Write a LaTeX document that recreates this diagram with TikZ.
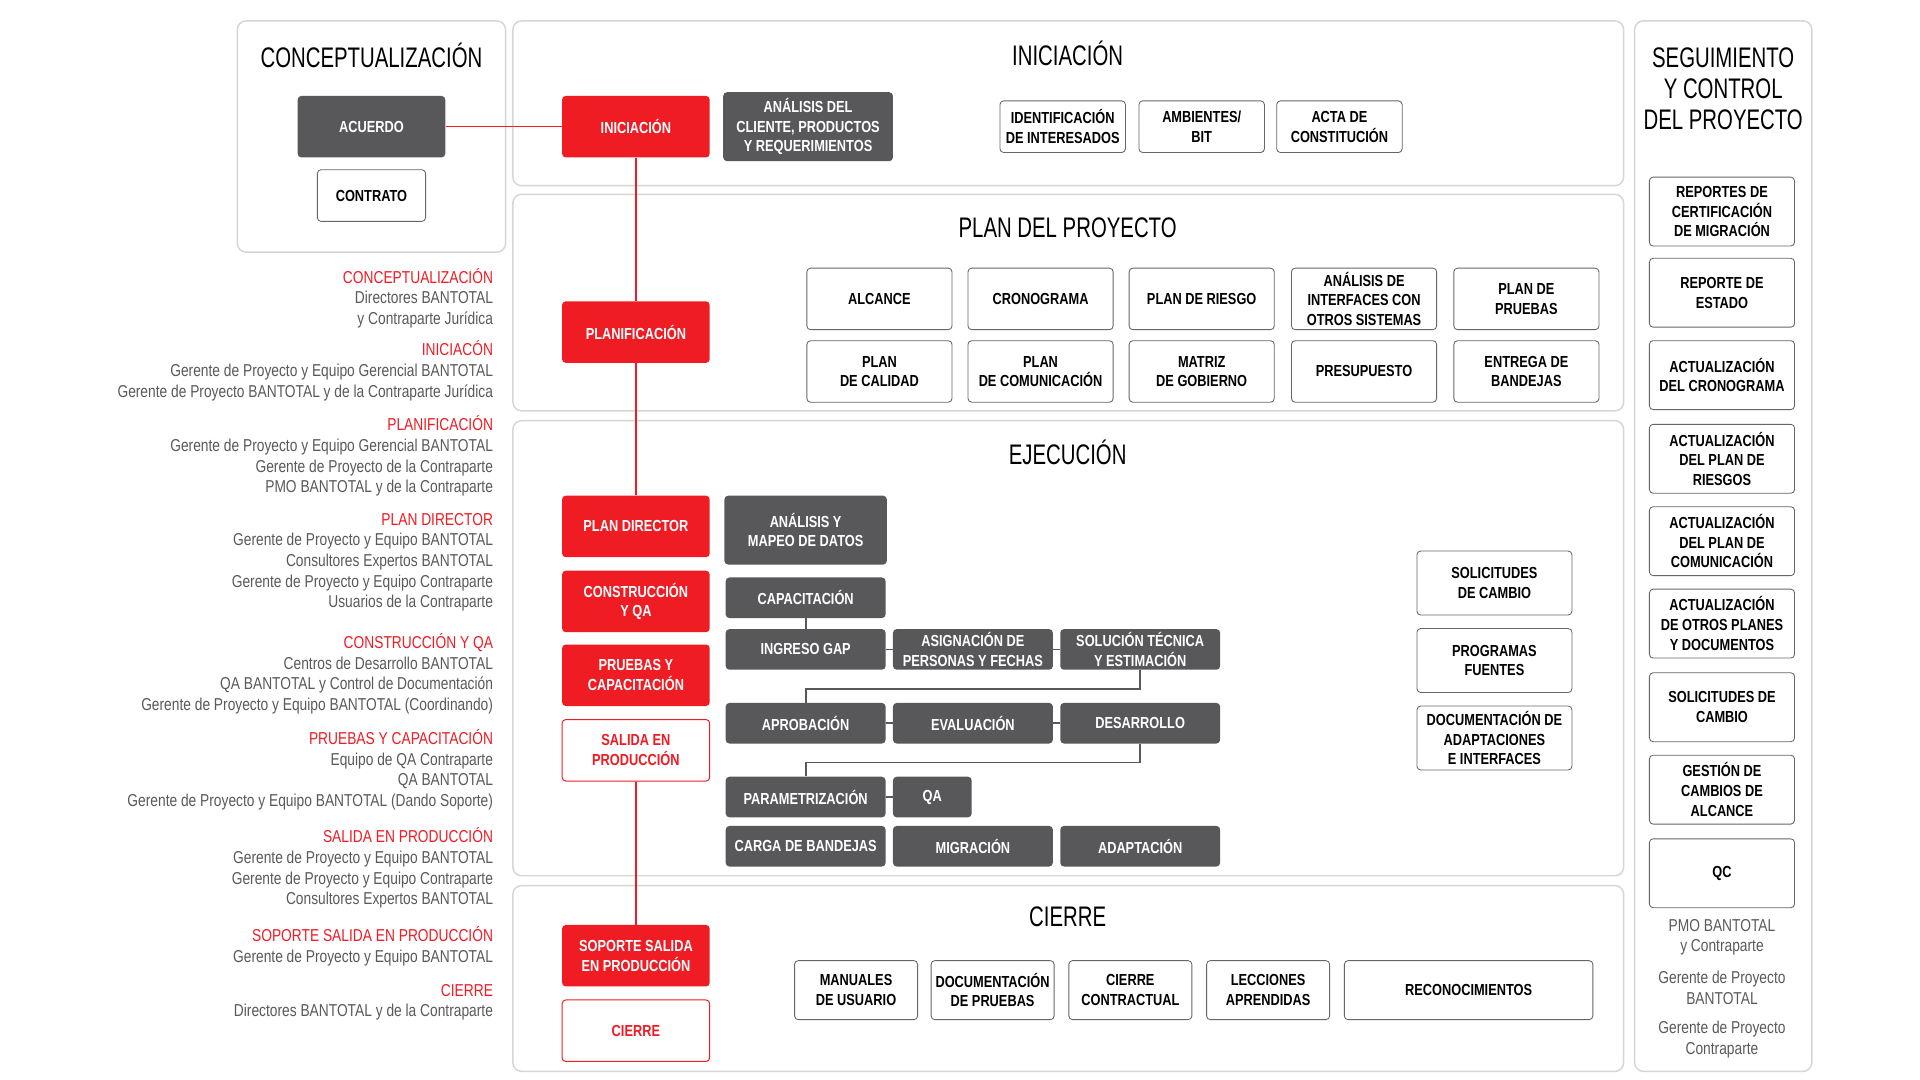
\documentclass[tikz,border=0pt]{standalone}
\usepackage{fontspec}
\setmainfont{Liberation Sans}[FakeStretch=0.8]
\newfontfamily\narrowf{Liberation Sans}[FakeStretch=0.72]
\begin{document}
\definecolor{rd}{HTML}{F01C24}
\definecolor{dk}{HTML}{58585B}
\definecolor{tx}{HTML}{5A5A5A}
\definecolor{pn}{HTML}{D6D6D6}
\begin{tikzpicture}[x=1pt,y=-1pt,
  panel/.style={draw=pn,line width=1.2pt,rounded corners=7pt},
  bx/.style={rounded corners=3pt,align=center,font=\fontsize{13}{16}\selectfont\bfseries,inner sep=1pt},
  wb/.style={bx,draw=black!60,line width=0.7pt,fill=white,text=black},
  db/.style={bx,fill=dk,text=white},
  rb/.style={bx,fill=rd,text=white},
  rw/.style={bx,draw=rd,line width=0.8pt,fill=white,text=rd},
  ttl/.style={align=center,font=\narrowf\fontsize{23}{25}\selectfont},
  side/.style={anchor=north east,align=right,inner sep=0pt,text=tx,font=\fontsize{14}{16.8}\selectfont},
  gl/.style={draw=dk,line width=1.4pt},
]
\useasboundingbox (0,0) rectangle (1561,878);
\fill[white] (0,0) rectangle (1561,878);
% panels
\draw[panel] (193,17) rectangle (411,205);
\draw[panel] (417,17) rectangle (1320,151);
\draw[panel] (417,158) rectangle (1320,334);
\draw[panel] (417,342) rectangle (1320,712);
\draw[panel] (417,720) rectangle (1320,871);
\draw[panel] (1329,17) rectangle (1473,871);
% titles
\node[ttl] (tc) at (302,45) {CONCEPTUALIZACIÓN};
\node[ttl] (ti) at (868,43) {INICIACIÓN};
\node[ttl] (tp) at (868,185) {PLAN DEL PROYECTO};
\node[ttl] (te) at (868,368) {EJECUCIÓN};
\node[ttl] (tci) at (868,745) {CIERRE};
\node[ttl] (ts) at (1401,72) {SEGUIMIENTO\\Y CONTROL\\DEL PROYECTO};
% concept
\node[db,minimum width=120,minimum height=50] (acu) at (302,103) {ACUERDO};
\node[wb,minimum width=88,minimum height=42] (con) at (302,159) {CONTRATO};
% red column
\node[rb,minimum width=120,minimum height=50] (ini) at (517,103) {INICIACIÓN};
\node[rb,minimum width=120,minimum height=50] (pla) at (517,270) {PLANIFICACIÓN};
\node[rb,minimum width=120,minimum height=50] (pdi) at (517,428) {PLAN DIRECTOR};
\node[rb,minimum width=120,minimum height=50] (cqa) at (517,489) {CONSTRUCCIÓN\\Y QA};
\node[rb,minimum width=120,minimum height=50] (pca) at (517,549) {PRUEBAS Y\\CAPACITACIÓN};
\node[rw,minimum width=120,minimum height=50] (sal) at (517,610) {SALIDA EN\\PRODUCCIÓN};
\node[rb,minimum width=120,minimum height=50] (sop) at (517,777) {SOPORTE SALIDA\\EN PRODUCCIÓN};
\node[rw,minimum width=120,minimum height=50] (cie) at (517,838) {CIERRE};
\draw[rd,line width=1.2pt] (acu.east) -- (ini.west);
\draw[rd,line width=1.2pt] (ini.south) -- (pla.north);
\draw[rd,line width=1.2pt] (pla.south) -- (pdi.north);
\draw[rd,line width=1.2pt] (sal.south) -- (sop.north);
% iniciacion
\node[db,minimum width=138,minimum height=56] (acl) at (657,103) {ANÁLISIS DEL\\CLIENTE, PRODUCTOS\\Y REQUERIMIENTOS};
\node[wb,minimum width=102,minimum height=42] (ide) at (864,103) {IDENTIFICACIÓN\\DE INTERESADOS};
\node[wb,minimum width=102,minimum height=42] (amb) at (977,103) {AMBIENTES/\\BIT};
\node[wb,minimum width=102,minimum height=42] (act) at (1089,103) {ACTA DE\\CONSTITUCIÓN};
% plan
\tikzset{pb/.style={wb,minimum width=118,minimum height=50}}
\node[pb] (p1) at (715,243) {ALCANCE};
\node[pb] (p2) at (846,243) {CRONOGRAMA};
\node[pb] (p3) at (977,243) {PLAN DE RIESGO};
\node[pb] (p4) at (1109,243) {ANÁLISIS DE\\INTERFACES CON\\OTROS SISTEMAS};
\node[pb] (p5) at (1241,243) {PLAN DE\\PRUEBAS};
\node[pb] (q1) at (715,302) {PLAN\\DE CALIDAD};
\node[pb] (q2) at (846,302) {PLAN\\DE COMUNICACIÓN};
\node[pb] (q3) at (977,302) {MATRIZ\\DE GOBIERNO};
\node[pb] (q4) at (1109,302) {PRESUPUESTO};
\node[pb] (q5) at (1241,302) {ENTREGA DE\\BANDEJAS};
% ejecucion
\tikzset{eb/.style={db,minimum width=130,minimum height=33}}
\node[db,minimum width=132,minimum height=56] (amd) at (655,431) {ANÁLISIS Y\\MAPEO DE DATOS};
\node[eb] (cap) at (655,486) {CAPACITACIÓN};
\node[eb] (gap) at (655,528) {INGRESO GAP};
\node[eb] (asi) at (791,528) {ASIGNACIÓN DE\\PERSONAS Y FECHAS};
\node[eb] (sol) at (927,528) {SOLUCIÓN TÉCNICA\\Y ESTIMACIÓN};
\node[eb] (apr) at (655,588) {APROBACIÓN};
\node[eb] (eva) at (791,588) {EVALUACIÓN};
\node[eb] (des) at (927,588) {DESARROLLO};
\node[eb] (par) at (655,648) {PARAMETRIZACIÓN};
\node[db,minimum width=64,minimum height=33] (qa) at (758,648) {QA};
\node[eb] (car) at (655,688) {CARGA DE BANDEJAS};
\node[eb] (mig) at (791,688) {MIGRACIÓN};
\node[eb] (ada) at (927,688) {ADAPTACIÓN};
\draw[gl] (cap.south) -- (gap.north);
\draw[gl] (gap.east) -- (asi.west);
\draw[gl] (asi.east) -- (sol.west);
\draw[gl] (sol.south) |- (655,560) -- (apr.north);
\draw[gl] (apr.east) -- (eva.west);
\draw[gl] (eva.east) -- (des.west);
\draw[gl] (des.south) |- (655,620) -- (par.north);
\draw[gl] (par.east) -- (qa.west);
\tikzset{rb2/.style={wb,minimum width=126,minimum height=52}}
\node[rb2] (sc) at (1215,474) {SOLICITUDES\\DE CAMBIO};
\node[rb2] (pf) at (1215,537) {PROGRAMAS\\FUENTES};
\node[rb2] (da) at (1215,600) {DOCUMENTACIÓN DE\\ADAPTACIONES\\E INTERFACES};
% cierre
\tikzset{cb/.style={wb,minimum width=100,minimum height=48}}
\node[cb] (c1) at (696,805) {MANUALES\\DE USUARIO};
\node[cb] (c2) at (807,805) {DOCUMENTACIÓN\\DE PRUEBAS};
\node[cb] (c3) at (919,805) {CIERRE\\CONTRACTUAL};
\node[cb] (c4) at (1031,805) {LECCIONES\\APRENDIDAS};
\node[wb,minimum width=202,minimum height=48] (c5) at (1194,805) {RECONOCIMIENTOS};
% seguimiento
\tikzset{sb/.style={wb,minimum width=118,minimum height=56}}
\node[sb] (s1) at (1400,172) {REPORTES DE\\CERTIFICACIÓN\\DE MIGRACIÓN};
\node[sb] (s2) at (1400,238) {REPORTE DE\\ESTADO};
\node[sb] (s3) at (1400,305) {ACTUALIZACIÓN\\DEL CRONOGRAMA};
\node[sb] (s4) at (1400,373) {ACTUALIZACIÓN\\DEL PLAN DE\\RIESGOS};
\node[sb] (s5) at (1400,440) {ACTUALIZACIÓN\\DEL PLAN DE\\COMUNICACIÓN};
\node[sb] (s6) at (1400,507) {ACTUALIZACIÓN\\DE OTROS PLANES\\Y DOCUMENTOS};
\node[sb] (s7) at (1400,575) {SOLICITUDES DE\\CAMBIO};
\node[sb] (s8) at (1400,642) {GESTIÓN DE\\CAMBIOS DE\\ALCANCE};
\node[sb] (s9) at (1400,710) {QC};
\tikzset{gt/.style={align=center,text=tx,font=\fontsize{14}{16.8}\selectfont}}
\node[gt] (g1) at (1400,762) {PMO BANTOTAL\\y Contraparte};
\node[gt] (g2) at (1400,803) {Gerente de Proyecto\\BANTOTAL};
\node[gt] (g3) at (1400,845) {Gerente de Proyecto\\Contraparte};
% left list
\node[side] (l1) at (401,218) {\textcolor{rd}{CONCEPTUALIZACIÓN}\\Directores BANTOTAL\\y Contraparte Jurídica};
\node[side] (l2) at (401,277) {\textcolor{rd}{INICIACÓN}\\Gerente de Proyecto y Equipo Gerencial BANTOTAL\\Gerente de Proyecto BANTOTAL y de la Contraparte Jurídica};
\node[side] (l3) at (401,338) {\textcolor{rd}{PLANIFICACIÓN}\\Gerente de Proyecto y Equipo Gerencial BANTOTAL\\Gerente de Proyecto de la Contraparte\\PMO BANTOTAL y de la Contraparte};
\node[side] (l4) at (401,417) {\textcolor{rd}{PLAN DIRECTOR}\\Gerente de Proyecto y Equipo BANTOTAL\\Consultores Expertos BANTOTAL\\Gerente de Proyecto y Equipo Contraparte\\Usuarios de la Contraparte};
\node[side] (l5) at (401,515) {\textcolor{rd}{CONSTRUCCIÓN Y QA}\\Centros de Desarrollo BANTOTAL\\QA BANTOTAL y Control de Documentación\\Gerente de Proyecto y Equipo BANTOTAL (Coordinando)};
\node[side] (l6) at (401,593) {\textcolor{rd}{PRUEBAS Y CAPACITACIÓN}\\Equipo de QA Contraparte\\QA BANTOTAL\\Gerente de Proyecto y Equipo BANTOTAL (Dando Soporte)};
\node[side] (l7) at (401,673) {\textcolor{rd}{SALIDA EN PRODUCCIÓN}\\Gerente de Proyecto y Equipo BANTOTAL\\Gerente de Proyecto y Equipo Contraparte\\Consultores Expertos BANTOTAL};
\node[side] (l8) at (401,753) {\textcolor{rd}{SOPORTE SALIDA EN PRODUCCIÓN}\\Gerente de Proyecto y Equipo BANTOTAL};
\node[side] (l9) at (401,800) {\textcolor{rd}{CIERRE}\\Directores BANTOTAL y de la Contraparte};
\end{tikzpicture}
\end{document}
